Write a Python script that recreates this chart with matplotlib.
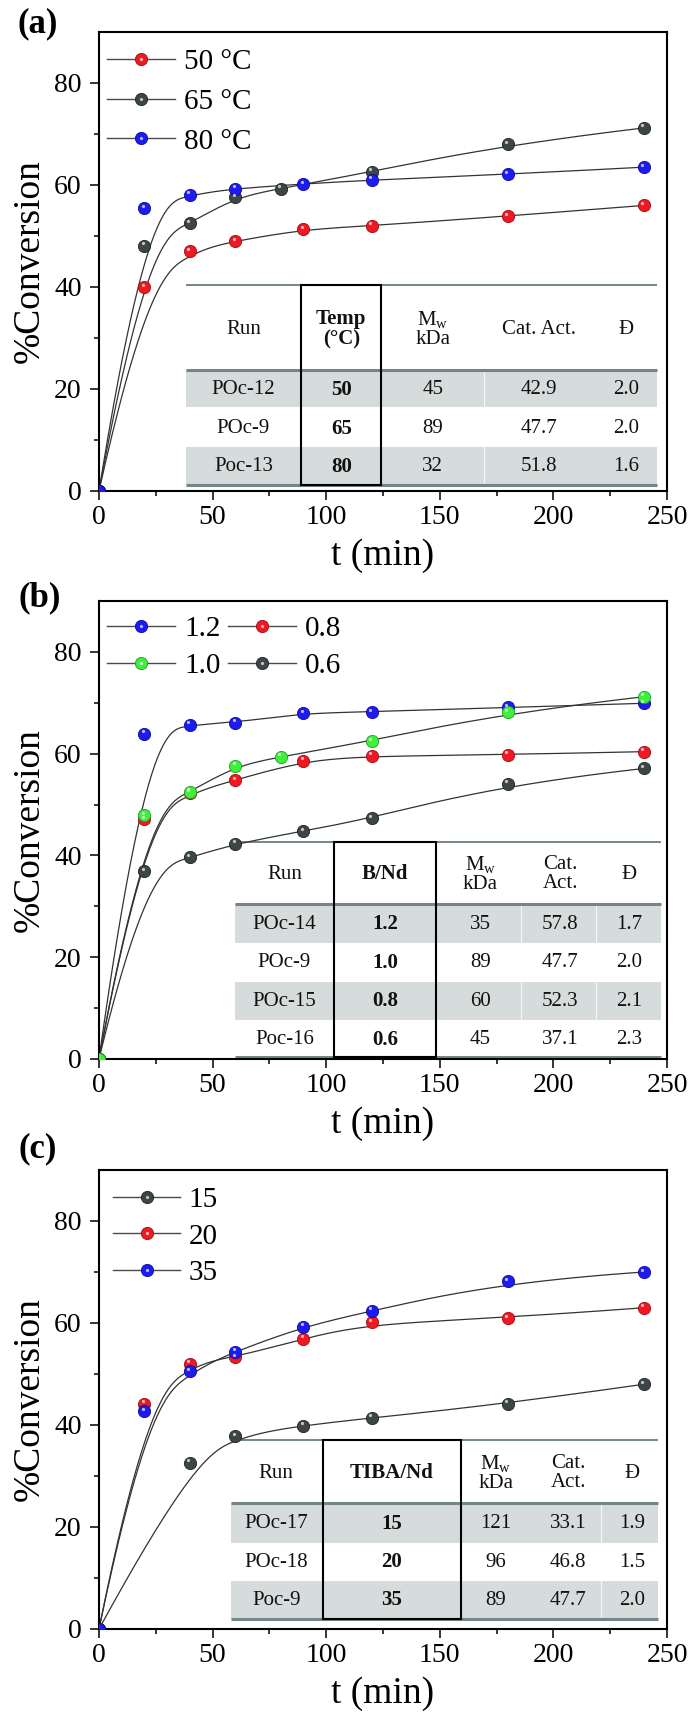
import numpy as np
import matplotlib
matplotlib.use("Agg")
import matplotlib.pyplot as plt
import matplotlib.transforms as mtransforms
from matplotlib.lines import Line2D
from matplotlib.legend_handler import HandlerTuple
from matplotlib.patches import Rectangle

plt.rcParams.update({
    "font.family": ["Liberation Serif", "DejaVu Serif"],
    "mathtext.fontset": "custom",
    "mathtext.rm": "Liberation Serif",
    "mathtext.it": "Liberation Serif:italic",
    "mathtext.bf": "Liberation Serif:bold",
})

# ---------------- data ----------------
# panel (a): temperature
t_a_50 = [0, 20, 40, 60, 90, 120, 180, 240]
conv_a_50 = [0, 40.0, 47.0, 49.0, 51.3, 52.0, 53.9, 56.0]
t_a_65 = [0, 20, 40, 60, 80, 120, 180, 240]
conv_a_65 = [0, 48.1, 52.5, 57.6, 59.3, 62.6, 68.0, 71.2]
t_a_80 = [0, 20, 40, 60, 90, 120, 180, 240]
conv_a_80 = [0, 55.5, 58.1, 59.3, 60.2, 61.0, 62.1, 63.5]

# panel (b): B/Nd
t_b_12 = [0, 20, 40, 60, 90, 120, 180, 240]
conv_b_12 = [0, 63.9, 65.7, 66.1, 68.0, 68.2, 69.1, 69.9]
t_b_08 = [0, 20, 40, 60, 90, 120, 180, 240]
conv_b_08 = [0, 47.1, 52.3, 54.8, 58.6, 59.6, 59.8, 60.4]
t_b_06 = [0, 20, 40, 60, 90, 120, 180, 240]
conv_b_06 = [0, 36.9, 39.6, 42.3, 44.8, 47.3, 54.1, 57.1]
t_b_10 = [0, 20, 40, 60, 80, 120, 180, 240]
conv_b_10 = [0, 47.9, 52.5, 57.6, 59.4, 62.5, 68.1, 71.2]

# panel (c): TIBA/Nd
t_c_15 = [0, 40, 60, 90, 120, 180, 240]
conv_c_15 = [0, 32.6, 37.8, 39.9, 41.4, 44.2, 48.0]
t_c_20 = [0, 20, 40, 60, 90, 120, 180, 240]
conv_c_20 = [0, 44.2, 52.0, 53.3, 56.9, 60.1, 61.0, 63.0]
t_c_35 = [0, 20, 40, 60, 90, 120, 180, 240]
conv_c_35 = [0, 42.7, 50.5, 54.4, 59.3, 62.4, 68.2, 70.0]

# tables
runs_a = ["POc-12", "POc-9", "Poc-13"]
temp_a = ["50", "65", "80"]
mw_a = ["45", "89", "32"]
act_a = ["42.9", "47.7", "51.8"]
disp_a = ["2.0", "2.0", "1.6"]

runs_b = ["POc-14", "POc-9", "POc-15", "Poc-16"]
bnd_b = ["1.2", "1.0", "0.8", "0.6"]
mw_b = ["35", "89", "60", "45"]
act_b = ["57.8", "47.7", "52.3", "37.1"]
disp_b = ["1.7", "2.0", "2.1", "2.3"]

runs_c = ["POc-17", "POc-18", "Poc-9"]
tiba_c = ["15", "20", "35"]
mw_c = ["121", "96", "89"]
act_c = ["33.1", "46.8", "47.7"]
disp_c = ["1.9", "1.5", "2.0"]

# ---------------- style ----------------
RED = ("#f01822", "#a00c10")
GRAY = ("#3d4547", "#1e2324")
BLUE = ("#1c1cf2", "#0c0c96")
GREEN = ("#3cf03c", "#1f9f1f")
CURVE = "#333333"
SHADE = "#d6dbdb"
TLINE = "#74868a"
MS = 8.8


def bspline(xs, ys, n=400, k=3):
    """Clamped uniform B-spline using the data points as control points."""
    P = np.column_stack([xs, ys]).astype(float)
    m = len(P)
    k = min(k, m - 1)
    knots = np.concatenate([np.zeros(k), np.linspace(0, 1, m - k + 1), np.ones(k)])
    u = np.linspace(0, 1, n)
    u[-1] -= 1e-9
    N = np.zeros((n, len(knots) - 1))
    for i in range(len(knots) - 1):
        N[:, i] = (knots[i] <= u) & (u < knots[i + 1])
    for d in range(1, k + 1):
        Nn = np.zeros((n, len(knots) - 1 - d))
        for i in range(len(knots) - 1 - d):
            a = np.zeros(n)
            b = np.zeros(n)
            den1 = knots[i + d] - knots[i]
            den2 = knots[i + d + 1] - knots[i + 1]
            if den1 > 0:
                a = (u - knots[i]) / den1
            if den2 > 0:
                b = (knots[i + d + 1] - u) / den2
            Nn[:, i] = a * N[:, i] + b * N[:, i + 1]
        N = Nn
    C = N @ P
    return C[:, 0], C[:, 1]


def series(ax, fig, t, y, col):
    cx, cy = bspline(t, y)
    ax.plot(cx, cy, color=CURVE, lw=0.9, zorder=2)
    ax.plot(t, y, ls="none", marker="o", ms=MS, mfc=col[0], mec=col[1], mew=0.6, zorder=3)
    tr = mtransforms.offset_copy(ax.transData, fig=fig, x=-1.8, y=2.4, units="dots")
    ax.plot(t, y, ls="none", marker="o", ms=2.3, mfc="white", mec="none", alpha=0.7,
            transform=tr, zorder=3.1)


def handle(col):
    h1 = Line2D([], [], color="#4a4a4a", lw=1.0, marker="o", ms=MS, mfc=col[0], mec=col[1], mew=0.6)
    h2 = Line2D([], [], ls="none", marker="o", ms=2.3, mfc="white", mec="none", alpha=0.7)
    return (h1, h2)


def style_axes(ax):
    ax.set_xlim(0, 250)
    ax.set_ylim(0, 90)
    ax.set_xticks(np.arange(0, 251, 50))
    ax.set_xticks(np.arange(25, 250, 50), minor=True)
    ax.set_yticks(np.arange(0, 81, 20))
    ax.set_yticks(np.arange(10, 90, 20), minor=True)
    for s in ax.spines.values():
        s.set_linewidth(1.5)
    ax.tick_params(which="major", direction="out", length=6.5, width=1.1, labelsize=20)
    ax.tick_params(which="minor", direction="out", length=3.5, width=1.1)
    ax.tick_params(axis="x", which="major", pad=3.5)
    ax.tick_params(axis="y", which="major", pad=6)
    ax.set_xlabel("t (min)", fontsize=27)
    ax.set_ylabel("%Conversion", fontsize=27)
    ax.xaxis.set_label_coords(0.5, -0.103)
    ax.yaxis.set_label_coords(-0.092, 0.5)


def draw_table(ax, x0, x1, y_top, y_sep, y_bot, bands, box, col_x, headers, header_y,
               columns, row_y, seps=()):
    for ya, yb in bands:
        ax.fill_between([x0, x1], ya, yb, color=SHADE, lw=0, zorder=1)
        for sx in seps:
            ax.plot([sx, sx], [ya, yb], color="white", lw=0.8, alpha=0.8, zorder=1.1)
    ax.plot([x0, x1], [y_top, y_top], color=TLINE, lw=1.4, zorder=1.5, solid_capstyle="butt")
    ax.plot([x0, x1], [y_sep, y_sep], color=TLINE, lw=2.2, zorder=1.5, solid_capstyle="butt")
    ax.plot([x0, x1], [y_bot, y_bot], color=TLINE, lw=2.2, zorder=1.5, solid_capstyle="butt")
    ax.add_patch(Rectangle((box[0], y_bot), box[1] - box[0], y_top - y_bot, fill=False,
                           ec="black", lw=1.5, zorder=4))
    for j, (hx, htxt) in enumerate(zip(col_x, headers)):
        ax.text(hx, header_y, htxt, ha="center", va="center", fontsize=15, linespacing=1.0,
                fontweight="bold" if j == 1 else "normal", color="#111111", zorder=5)
    for j, col in enumerate(columns):
        for yy, txt in zip(row_y, col):
            ax.text(col_x[j], yy, txt, ha="center", va="center", fontsize=15,
                    fontweight="bold" if j == 1 else "normal", color="#111111", zorder=5)


W, H = 692, 1721
fig = plt.figure(figsize=(W / 100, H / 100), dpi=100)
left = 99 / W
width = 568 / W


def make_ax(top_px, bottom_px):
    return fig.add_axes([left, 1 - bottom_px / H, width, (bottom_px - top_px) / H])


MW = "M$_\\mathregular{w}$\nkDa"
HMAP = {tuple: HandlerTuple(ndivide=1)}

# ---------- (a) ----------
ax = make_ax(32, 491)
style_axes(ax)
series(ax, fig, t_a_50, conv_a_50, RED)
series(ax, fig, t_a_65, conv_a_65, GRAY)
series(ax, fig, t_a_80, conv_a_80, BLUE)
ax.legend([handle(RED), handle(GRAY), handle(BLUE)], ["50 °C", "65 °C", "80 °C"],
          handler_map=HMAP, loc="upper left",
          bbox_to_anchor=(0.014, 0.964), borderpad=0, borderaxespad=0, frameon=False,
          fontsize=21, handlelength=2.35, handletextpad=0.3, labelspacing=0.46)
draw_table(ax, 38.2, 245.5, 40.4, 23.7, 1.2, [(23.7, 16.4), (8.7, 1.2)], (89.1, 124.0),
           [63.6, 106.6, 146.9, 193.8, 232.0],
           ["Run", "Temp\n(°C)", MW, "Cat. Act.", "Đ"], 31.7,
           [runs_a, temp_a, mw_a, act_a, disp_a], [19.9, 12.2, 4.8], seps=(169.6,))
fig.text(38 / W, 1 - 23.5 / H, "(a)", ha="center", va="center", fontsize=25, fontweight="bold")

# ---------- (b) ----------
ax = make_ax(601, 1059)
style_axes(ax)
series(ax, fig, t_b_12, conv_b_12, BLUE)
series(ax, fig, t_b_08, conv_b_08, RED)
series(ax, fig, t_b_06, conv_b_06, GRAY)
series(ax, fig, t_b_10, conv_b_10, GREEN)
ax.legend([handle(BLUE), handle(GREEN), handle(RED), handle(GRAY)], ["1.2", "1.0", "0.8", "0.6"],
          handler_map=HMAP, loc="upper left", ncol=2,
          bbox_to_anchor=(0.014, 0.968), borderpad=0, borderaxespad=0, frameon=False,
          fontsize=21, handlelength=2.35, handletextpad=0.3, labelspacing=0.36,
          columnspacing=0.25)
draw_table(ax, 59.9, 247.5, 42.7, 30.4, 0.3, [(30.4, 22.7), (15.1, 7.6)], (103.4, 148.5),
           [81.6, 126.0, 167.8, 203.0, 233.4],
           ["Run", "B/Nd", MW, "Cat.\nAct.", "Đ"], 36.3,
           [runs_b, bnd_b, mw_b, act_b, disp_b], [26.5, 18.9, 11.3, 3.8], seps=(185.6, 218.9))
fig.text(40 / W, 1 - 598 / H, "(b)", ha="center", va="center", fontsize=25, fontweight="bold")

# ---------- (c) ----------
ax = make_ax(1170, 1629)
style_axes(ax)
series(ax, fig, t_c_15, conv_c_15, GRAY)
series(ax, fig, t_c_20, conv_c_20, RED)
series(ax, fig, t_c_35, conv_c_35, BLUE)
ax.legend([handle(GRAY), handle(RED), handle(BLUE)], ["15", "20", "35"],
          handler_map=HMAP, loc="upper left",
          bbox_to_anchor=(0.0246, 0.964), borderpad=0, borderaxespad=0, frameon=False,
          fontsize=21, handlelength=2.3, handletextpad=0.3, labelspacing=0.35)
draw_table(ax, 58.3, 246.0, 37.0, 24.7, 2.0, [(24.7, 16.9), (9.4, 2.0)], (98.5, 159.2),
           [78.0, 128.9, 174.7, 206.5, 234.5],
           ["Run", "TIBA/Nd", MW, "Cat.\nAct.", "Đ"], 30.5,
           [runs_c, tiba_c, mw_c, act_c, disp_c], [20.6, 13.1, 5.6], seps=(221.0,))
fig.text(38 / W, 1 - 1149 / H, "(c)", ha="center", va="center", fontsize=25, fontweight="bold")

fig.savefig("out.png", dpi=100)
